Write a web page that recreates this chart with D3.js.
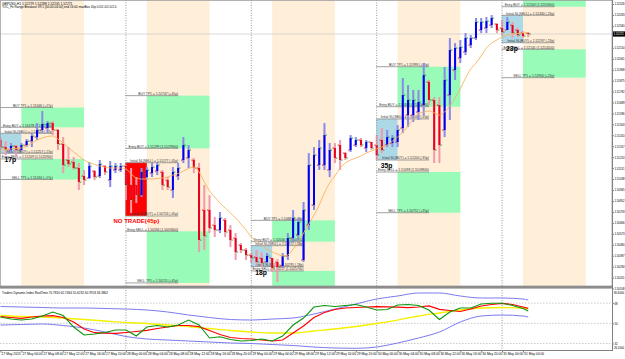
<!DOCTYPE html>
<html><head><meta charset="utf-8">
<script src="https://cdn.jsdelivr.net/npm/d3@7"></script>
<style>body{margin:0;background:#fff;overflow:hidden}svg{display:block;font-family:"Liberation Sans",Arial,sans-serif}</style>
</head><body><svg id="c" width="625" height="359"></svg>
<script>
// ---------- data (GBPUSD H1, 27 May 2013 00:00 .. 31 May 2013 05:00) ----------
const opens=[1.51370,1.51310,1.51285,1.51319,1.51285,1.51327,1.51361,1.51395,1.51455,1.51472,
1.51514,1.51455,1.51336,1.51200,1.51183,1.51132,1.51064,1.51047,1.51106,1.51064,
1.51149,1.51030,1.51115,1.51115,1.51149,1.50987,1.50987,1.50902,1.51055,1.51089,
1.51106,1.51098,1.51030,1.50945,1.51064,1.51200,1.51217,1.51200,1.51132,1.50775,
1.50775,1.50647,1.50605,1.50690,1.50605,1.50537,1.50477,1.50435,1.50392,1.50375,
1.50367,1.50333,1.50367,1.50333,1.50299,1.50384,1.50537,1.50562,1.50350,1.50647,
1.50817,1.51157,1.51157,1.51115,1.51302,1.51327,1.51259,1.51285,1.51327,1.51370,
1.51302,1.51353,1.51327,1.51370,1.51327,1.51344,1.51353,1.51472,1.51582,1.51582,
1.51608,1.51667,1.51863,1.51710,1.51667,1.51455,1.51752,1.51965,1.52067,1.52118,
1.52177,1.52237,1.52305,1.52322,1.52347,1.52356,1.52322,1.52305,1.52347,1.52305,
1.52279,1.52279];
const highs=[1.51387,1.51361,1.51344,1.51327,1.51344,1.51378,1.51429,1.51514,1.51616,1.51532,
1.51532,1.51463,1.51395,1.51310,1.51225,1.51174,1.51115,1.51183,1.51115,1.51200,
1.51157,1.51191,1.51174,1.51174,1.51157,1.51132,1.51055,1.51132,1.51140,1.51174,
1.51183,1.51115,1.51055,1.51140,1.51174,1.51395,1.51327,1.51217,1.51174,1.50987,
1.50902,1.50715,1.50758,1.50707,1.50647,1.50579,1.50494,1.50452,1.50409,1.50435,
1.50418,1.50409,1.50367,1.50358,1.50409,1.50579,1.50775,1.50707,1.50843,1.51259,
1.51310,1.51370,1.51514,1.51344,1.51344,1.51370,1.51268,1.51412,1.51395,1.51387,
1.51370,1.51353,1.51412,1.51472,1.51455,1.51412,1.51497,1.51897,1.51837,1.51795,
1.51795,1.52024,1.51880,1.51735,1.51735,1.51990,1.52237,1.52194,1.52220,1.52279,
1.52262,1.52407,1.52407,1.52415,1.52432,1.52364,1.52390,1.52415,1.52373,1.52322,
1.52296,1.52288];
const lows=[1.51285,1.51242,1.51259,1.51225,1.51276,1.51310,1.51310,1.51370,1.51429,1.51429,
1.51412,1.51285,1.51089,1.51140,1.51115,1.50945,1.50987,1.51038,1.51030,1.51047,
1.51072,1.50970,1.51089,1.51098,1.50860,1.50749,1.50834,1.50885,1.51030,1.51055,
1.51072,1.50945,1.50945,1.50877,1.51030,1.51174,1.51132,1.51089,1.50418,1.50435,
1.50579,1.50545,1.50579,1.50545,1.50460,1.50350,1.50409,1.50350,1.50324,1.50307,
1.50290,1.50324,1.50248,1.50163,1.50282,1.50350,1.50503,1.50494,1.50333,1.50605,
1.50775,1.51115,1.51115,1.51055,1.51174,1.51115,1.51200,1.51268,1.51310,1.51310,
1.51268,1.51285,1.51200,1.51259,1.51310,1.51310,1.51310,1.51429,1.51480,1.51523,
1.51540,1.51582,1.51667,1.51174,1.51174,1.51395,1.51540,1.51880,1.52024,1.52092,
1.52152,1.52220,1.52279,1.52279,1.52322,1.52279,1.52262,1.52305,1.52237,1.52245,
1.52237,1.52245];
const closes=[1.51310,1.51285,1.51319,1.51285,1.51327,1.51361,1.51404,1.51455,1.51506,1.51514,
1.51455,1.51336,1.51157,1.51166,1.51132,1.51013,1.51030,1.51149,1.51055,1.51166,
1.51098,1.51149,1.51149,1.51149,1.50987,1.50860,1.50902,1.51098,1.51115,1.51140,
1.51157,1.50987,1.50970,1.51098,1.51132,1.51327,1.51285,1.51132,1.50520,1.50554,
1.50622,1.50605,1.50707,1.50588,1.50520,1.50418,1.50435,1.50392,1.50367,1.50333,
1.50324,1.50384,1.50282,1.50290,1.50384,1.50537,1.50707,1.50673,1.50775,1.51157,
1.51242,1.51302,1.51412,1.51285,1.51217,1.51200,1.51217,1.51387,1.51370,1.51327,
1.51353,1.51302,1.51242,1.51285,1.51395,1.51387,1.51455,1.51752,1.51710,1.51710,
1.51693,1.51922,1.51710,1.51285,1.51327,1.51880,1.52135,1.52152,1.52160,1.52237,
1.52237,1.52373,1.52373,1.52381,1.52407,1.52305,1.52288,1.52373,1.52279,1.52262,
1.52254,1.52271];
const maValues=[1.51285,1.51289,1.51294,1.51298,1.51302,1.51319,1.51344,1.51370,1.51387,1.51400,
1.51404,1.51378,1.51344,1.51306,1.51268,1.51234,1.51200,1.51179,1.51162,1.51149,
1.51140,1.51132,1.51132,1.51132,1.51124,1.51081,1.51047,1.51038,1.51038,1.51038,
1.51043,1.51047,1.51055,1.51072,1.51085,1.51106,1.51128,1.51140,1.51098,1.51013,
1.50937,1.50885,1.50834,1.50792,1.50749,1.50707,1.50656,1.50605,1.50545,1.50512,
1.50477,1.50444,1.50418,1.50401,1.50384,1.50392,1.50444,1.50503,1.50579,1.50656,
1.50732,1.50817,1.50920,1.51005,1.51064,1.51132,1.51174,1.51200,1.51217,1.51234,
1.51259,1.51276,1.51294,1.51310,1.51327,1.51361,1.51395,1.51438,1.51489,1.51549,
1.51591,1.51608,1.51617,1.51600,1.51582,1.51608,1.51659,1.51727,1.51804,1.51897,
1.51974,1.52024,1.52084,1.52152,1.52194,1.52220,1.52245,1.52262,1.52271,1.52275,
1.52280,1.52280];

// range breakout boxes, one per day
const dayStart=[0,24,48,72,96];
const rangeHigh=[1.51427,1.51177,1.50472,1.51549,1.52430];
const rangeLow=[1.51257,1.50724,1.50295,1.51200,1.52197];
const entryBuy=[1.51478,1.51299,1.50506,1.51653,1.52503];
const entrySell=[1.51209,1.50594,1.50257,1.51098,1.52141];
const tpBuy=[1.51646,1.51747,1.50687,1.51993,1.52733];
const tpSell=[1.51034,1.50155,1.50077,1.50752,1.51900];
const rangePips=[17,45,18,35,23];
const noTrade=[false,true,false,false,false];
const currentPrice=1.52271;

// Traders Dynamic Index
const bandIdx=[0,4,8,12,16,20,24,28,32,36,40,44,48,52,56,60,64,68,72,76,80,84,88,92,96,100,101];
const upperBand=[64.98,64.54,64.09,63.64,63.64,63.20,62.75,61.86,60.08,57.40,55.17,53.39,52.94,53.83,54.73,58.29,62.75,67.21,71.67,74.35,77.02,77.02,74.35,72.56,72.56,71.67,70.78];
const lowerBand=[48.48,48.93,49.38,48.04,45.81,42.24,38.23,36.00,35.11,34.22,33.32,32.43,31.99,31.09,30.20,28.86,27.97,27.70,28.86,32.43,36.89,42.24,51.16,56.51,57.40,56.51,55.62];
const marketBase=[56.96,56.06,55.62,54.73,53.39,52.05,50.71,49.82,48.48,47.15,45.36,43.58,42.24,41.35,41.35,43.13,44.92,47.15,49.82,52.94,56.51,59.19,61.86,63.64,64.09,63.64,62.75];
const lineIdx=[0,2,4,6,8,10,12,14,16,18,20,22,24,26,28,30,32,34,36,38,40,42,44,46,48,50,52,54,56,58,60,62,64,66,68,70,72,74,76,78,80,82,84,86,88,90,92,94,96,98,100,101];
const rsiPrice=[55.89,55.17,54.46,55.62,56.51,56.78,55.17,51.16,44.92,41.62,41.17,41.08,41.80,42.69,43.76,45.36,46.70,48.04,48.04,46.97,43.58,40.01,37.34,36.44,36.00,35.11,34.22,35.11,41.35,47.59,55.17,59.63,62.31,63.64,64.09,64.54,64.80,64.71,64.36,64.00,64.54,65.61,62.49,61.42,60.52,62.75,65.43,66.77,67.84,66.77,64.54,63.38];
const rsiFast=[55.62,53.83,52.94,53.83,56.51,60.08,56.96,46.70,39.57,40.46,41.80,44.02,44.02,38.67,46.70,48.04,46.70,48.48,52.94,48.48,36.89,38.05,35.55,34.22,34.66,36.00,34.22,38.67,48.48,54.73,64.54,65.87,64.98,65.87,66.77,64.54,61.86,62.31,66.32,66.77,65.87,61.86,53.39,60.08,63.64,63.64,67.21,67.84,67.84,65.87,63.20,60.97];
const tdiLevels=[68,50,32];
const tdiRange=[26.2,80.6];

// axes
const timeLabels=["27 May 2013","27 May 04:00","27 May 08:00","27 May 12:00","27 May 16:00","27 May 20:00",
"28 May 00:00","28 May 04:00","28 May 08:00","28 May 12:00","28 May 16:00","28 May 20:00",
"29 May 00:00","29 May 04:00","29 May 08:00","29 May 12:00","29 May 16:00","29 May 20:00",
"30 May 00:00","30 May 04:00","30 May 08:00","30 May 12:00","30 May 16:00","30 May 20:00",
"31 May 00:00","31 May 04:00"];
const priceTicks=[1.52526,1.52433,1.52340,1.52247,1.52154,1.52061,1.51968,1.51875,1.51782,1.51689,1.51596,1.51503,1.51410,1.51317,1.51224,1.51131,1.51038,1.50945,1.50852,1.50759,1.50666,1.50573,1.50480,1.50387,1.50294,1.50201,1.50108];
const priceExtent=[1.501205,1.52560];
const header1="GBPUSD,H1  1.52279 1.52288 1.52245 1.52271";
const header2="TOC_Fx Range Breakout V9.1 [00:00-04:00] end 16:00  maxBox 45p  0.5/1.0/1.5/2.0";
const tdiTitle="Traders Dynamic Index RealTime 70.7810 62.7464 55.6232 60.9703 63.3802";

// ---------- drawing ----------
const svg=d3.select("#c");
const W=612, mainH=286;
const x=d3.scaleLinear().domain([0,100]).range([0.5,523]);
const y=d3.scaleLinear().domain(priceExtent).range([287,0]);
const yT=d3.scaleLinear().domain(tdiRange).range([350,289]);
const fmt=d3.format(".5f");
const AX_FS=2.85;

svg.append("rect").attr("width",625).attr("height",359).attr("fill","#fff");
svg.append("clipPath").attr("id","mc").append("rect").attr("x",0).attr("y",0).attr("width",W).attr("height",mainH);
svg.append("clipPath").attr("id","tc").append("rect").attr("x",0).attr("y",289).attr("width",W).attr("height",61);
const main=svg.append("g").attr("clip-path","url(#mc)");

const days=dayStart.map((s,d)=>({s,d}));
// session bands
main.selectAll("rect.band").data(days).join("rect").attr("class","band")
 .attr("x",d=>x(d.s+4)).attr("width",d=>x(d.s+16)-x(d.s+4)).attr("y",0).attr("height",mainH).attr("fill","#FFEED8");
// target zones
const green="#98FBB8";
main.selectAll("rect.gb").data(days).join("rect").attr("class","gb")
 .attr("x",d=>x(d.s+4)).attr("width",d=>x(d.s+16)-x(d.s+4))
 .attr("y",d=>y(tpBuy[d.d])).attr("height",d=>y(entryBuy[d.d])-y(tpBuy[d.d])).attr("fill",green);
main.selectAll("rect.gs").data(days).join("rect").attr("class","gs")
 .attr("x",d=>x(d.s+4)).attr("width",d=>x(d.s+16)-x(d.s+4))
 .attr("y",d=>y(entrySell[d.d])).attr("height",d=>y(tpSell[d.d])-y(entrySell[d.d])).attr("fill",green);
// range boxes
main.selectAll("rect.rb").data(days).join("rect").attr("class","rb")
 .attr("x",d=>Math.max(0,x(d.s)-0.5)).attr("width",d=>x(d.s+4)-Math.max(0,x(d.s)-0.5))
 .attr("y",d=>y(rangeHigh[d.d])).attr("height",d=>y(rangeLow[d.d])-y(rangeHigh[d.d]))
 .attr("fill",d=>noTrade[d.d]?"#FF0000":"#ADD8E6");
// bid line
main.append("line").attr("x1",0).attr("x2",W).attr("y1",y(currentPrice)).attr("y2",y(currentPrice)).attr("stroke","#cfcfcf").attr("stroke-width",0.8);
// day separators
svg.selectAll("line.sep").data(dayStart.slice(1)).join("line").attr("class","sep")
 .attr("x1",d=>x(d)).attr("x2",d=>x(d)).attr("y1",0).attr("y2",350)
 .attr("stroke","#808080").attr("stroke-width",0.8).attr("stroke-dasharray","1,1.5");
// levels + labels
const levels=[];
days.forEach(({s,d})=>{
 const p=rangePips[d];
 levels.push({s,v:tpBuy[d],t:`BUY TP1 = ${fmt(tpBuy[d])} (+${p}p)`});
 levels.push({s,v:entryBuy[d],t:`Entry BUY = ${fmt(entryBuy[d])} (${entryBuy[d].toFixed(7)})`});
 levels.push({s,v:rangeHigh[d],t:`Initial SL(SELL) = ${fmt(rangeHigh[d])} (-${p}p)`});
 levels.push({s,v:rangeLow[d],t:`Initial SL(BUY) = ${fmt(rangeLow[d])} (-${p}p)`});
 levels.push({s,v:entrySell[d],t:`Entry SELL = ${fmt(entrySell[d])} (${entrySell[d].toFixed(7)})`});
 levels.push({s,v:tpSell[d],t:`SELL TP1 = ${fmt(tpSell[d])} (+${p}p)`});
});
const visLevels=levels.filter(l=>y(l.v)>3.5&&y(l.v)<mainH-1);
main.selectAll("line.lv").data(visLevels).join("line").attr("class","lv")
 .attr("x1",d=>x(d.s)-0.5).attr("x2",d=>x(d.s+10)).attr("y1",d=>y(d.v)).attr("y2",d=>y(d.v))
 .attr("stroke","#8a8a8a").attr("stroke-width",0.8);
main.selectAll("text.lv").data(visLevels).join("text").attr("class","lv")
 .attr("x",d=>x(d.s+10)).attr("y",d=>y(d.v)-0.7).attr("text-anchor","end")
 .attr("font-size",3.3).attr("fill","#333").text(d=>d.t);

// candles
const bars=opens.map((o,i)=>({i,o,h:highs[i],l:lows[i],c:closes[i],up:closes[i]>=o}));
const cg=main.append("g");
cg.selectAll("rect.wick").data(bars).join("rect").attr("class","wick")
 .attr("x",d=>x(d.i)-1).attr("width",2).attr("y",d=>y(d.h)).attr("height",d=>Math.max(1,y(d.l)-y(d.h)))
 .attr("fill",d=>d.up?"#8a8ae8":"#f19aaa");
cg.selectAll("rect.body").data(bars).join("rect").attr("class","body")
 .attr("x",d=>x(d.i)-1).attr("width",2)
 .attr("y",d=>Math.min(y(d.o),y(d.c))).attr("height",d=>Math.max(1,Math.abs(y(d.o)-y(d.c))))
 .attr("fill",d=>d.up?"#0000EE":"#E8001E");
cg.selectAll("rect.ot").data(bars).join("rect").attr("class","ot")
 .attr("x",d=>x(d.i)-2.4).attr("width",1.4).attr("y",d=>y(d.o)-0.4).attr("height",0.9).attr("fill","#E00000");
cg.selectAll("rect.ct").data(bars).join("rect").attr("class","ct")
 .attr("x",d=>x(d.i)+1).attr("width",1.4).attr("y",d=>y(d.c)-0.4).attr("height",0.9).attr("fill","#00A000");
// moving average
main.append("path").datum(maValues)
 .attr("d",d3.line().x((d,i)=>x(i)).y(d=>y(d)).curve(d3.curveMonotoneX))
 .attr("fill","none").attr("stroke","#F8B35C").attr("stroke-width",0.9);

// pips labels
days.forEach(({s,d})=>{
 if(noTrade[d]){
  main.append("text").attr("x",(x(s)+x(s+4))/2).attr("y",y(rangeLow[d])+7).attr("text-anchor","middle")
   .attr("font-size",6).attr("font-weight","bold").attr("fill","#FF0000").text(`NO TRADE(${rangePips[d]}p)`);
 } else {
  main.append("text").attr("x",x(s)+4).attr("y",y(rangeLow[d])+8.3)
   .attr("font-size",6.8).attr("font-weight","bold").attr("fill","#000").text(`${rangePips[d]}p`);
 }
});

// header
svg.append("text").attr("x",2).attr("y",4.6).attr("font-size",3.3).attr("fill","#000").text(header1);
svg.append("text").attr("x",2).attr("y",8.2).attr("font-size",3.1).attr("fill","#000").text(header2);

// frames
svg.append("rect").attr("x",0.5).attr("y",0.5).attr("width",W-0.5).attr("height",mainH-0.5).attr("fill","none").attr("stroke","#a0a0a0").attr("stroke-width",0.8);
svg.append("rect").attr("x",0).attr("y",286).attr("width",W+0.5).attr("height",2.6).attr("fill","#8c8c8c");

// TDI panel
const tg=svg.append("g").attr("clip-path","url(#tc)");
tg.selectAll("line.lvl").data(tdiLevels).join("line").attr("x1",0).attr("x2",W).attr("y1",d=>yT(d)).attr("y2",d=>yT(d))
 .attr("stroke","#b4b4b4").attr("stroke-width",0.7).attr("stroke-dasharray","1.5,1.5");
const lnB=d3.line().x(d=>x(d[0])).y(d=>yT(d[1])).curve(d3.curveMonotoneX);
const lnL=d3.line().x(d=>x(d[0])).y(d=>yT(d[1]));
tg.append("path").attr("d",lnB(bandIdx.map((b,k)=>[b,upperBand[k]]))).attr("fill","none").attr("stroke","#7b7bef").attr("stroke-width",1);
tg.append("path").attr("d",lnB(bandIdx.map((b,k)=>[b,lowerBand[k]]))).attr("fill","none").attr("stroke","#7b7bef").attr("stroke-width",1);
tg.append("path").attr("d",lnB(bandIdx.map((b,k)=>[b,marketBase[k]]))).attr("fill","none").attr("stroke","#F4F000").attr("stroke-width",1.3);
tg.append("path").attr("d",lnL(lineIdx.map((b,k)=>[b,rsiPrice[k]]))).attr("fill","none").attr("stroke","#FF0000").attr("stroke-width",1.2);
tg.append("path").attr("d",lnL(lineIdx.map((b,k)=>[b,rsiFast[k]]))).attr("fill","none").attr("stroke","#0C960C").attr("stroke-width",1.1);
svg.append("text").attr("x",2).attr("y",293.6).attr("font-size",3.1).attr("fill","#000").text(tdiTitle);

// bottom + right axis lines
svg.append("line").attr("x1",0).attr("x2",W+0.5).attr("y1",350.5).attr("y2",350.5).attr("stroke","#808080").attr("stroke-width",1);
svg.append("line").attr("x1",W+0.5).attr("x2",W+0.5).attr("y1",0).attr("y2",351).attr("stroke","#808080").attr("stroke-width",1);

// time axis
const ta=svg.append("g").attr("transform","translate(0,350.5)")
 .call(d3.axisBottom(x).tickValues(d3.range(0,101,4)).tickSize(2).tickFormat((d,i)=>timeLabels[i]));
ta.select(".domain").remove();
ta.selectAll("line").attr("stroke","#808080");
ta.selectAll("text").attr("text-anchor","start").attr("x",0.6).attr("y",2.3).attr("dy","0.71em")
 .attr("font-size",3.3).attr("fill","#000").attr("font-family","Liberation Sans, Arial, sans-serif");

// price axis
const cpY=y(currentPrice);
const pa=svg.append("g").attr("transform",`translate(${W+0.5},0)`)
 .call(d3.axisRight(y).tickValues(priceTicks.filter(p=>Math.abs(y(p)-cpY)>4.5)).tickSize(1.5).tickFormat(fmt));
pa.select(".domain").remove();
pa.selectAll("line").attr("stroke","#808080");
pa.selectAll("text").attr("x",1.9).attr("font-size",AX_FS).attr("fill","#000").attr("font-family","Liberation Sans, Arial, sans-serif");
svg.append("rect").attr("x",W+1).attr("y",cpY-2.6).attr("width",12).attr("height",5.2).attr("fill","#000");
svg.append("text").attr("x",W+1.6).attr("y",cpY+1).attr("font-size",AX_FS).attr("fill","#fff").text(fmt(currentPrice));

// TDI axis
const tda=svg.append("g").attr("transform",`translate(${W+0.5},0)`)
 .call(d3.axisRight(yT).tickValues(tdiLevels).tickSize(1.5).tickFormat(d3.format("d")));
tda.select(".domain").remove();
tda.selectAll("line").attr("stroke","#808080");
tda.selectAll("text").attr("x",1.9).attr("font-size",AX_FS).attr("fill","#000").attr("font-family","Liberation Sans, Arial, sans-serif");
svg.append("text").attr("x",W+1.9).attr("y",yT(tdiRange[1])+4.6).attr("font-size",AX_FS).attr("fill","#000").text(tdiRange[1].toFixed(4));
svg.append("text").attr("x",W+1.9).attr("y",yT(tdiRange[0])-1).attr("font-size",AX_FS).attr("fill","#000").text(tdiRange[0].toFixed(4));
</script></body></html>
